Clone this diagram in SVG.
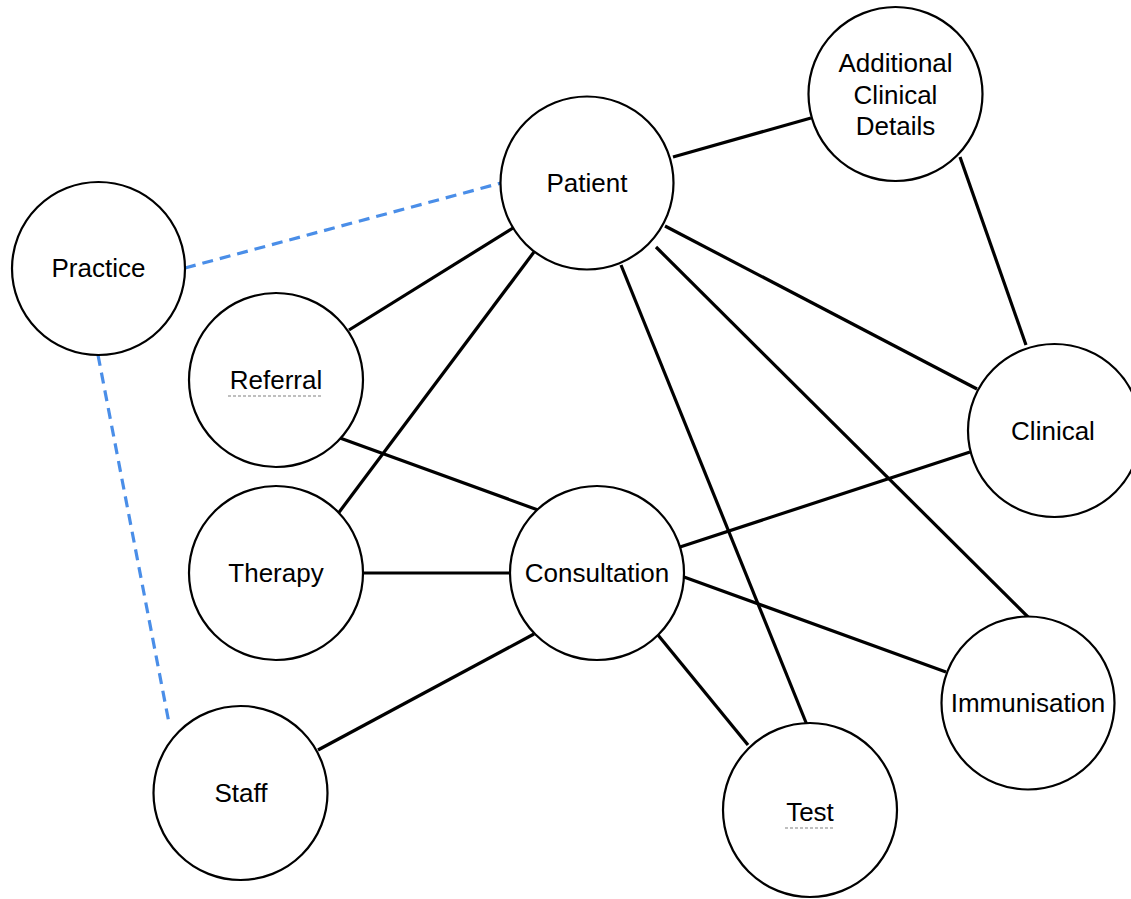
<svg xmlns="http://www.w3.org/2000/svg" width="1131" height="899" viewBox="0 0 1131 899">
<style>
.node circle{fill:#fff;stroke:#000;stroke-width:2.2}
.node text{font-family:"Liberation Sans",Arial,sans-serif;font-size:26px;text-anchor:middle;fill:#000}
.edge{stroke:#000;stroke-width:3.2;fill:none}
.dash{stroke:#4a8ee8;stroke-width:3.2;fill:none;stroke-dasharray:11 7}
.ul{stroke:#aaa;stroke-width:1.5;stroke-dasharray:3 2}
</style>
<rect width="1131" height="899" fill="#fff"/>
<g id="connectors">
<line class="dash" x1="185" y1="268" x2="501" y2="183"/>
<line class="dash" x1="98" y1="355" x2="169" y2="723"/>
<line class="edge" x1="673" y1="157" x2="811" y2="118"/>
<line class="edge" x1="960" y1="157" x2="1026" y2="345"/>
<line class="edge" x1="513" y1="228" x2="349" y2="330"/>
<line class="edge" x1="534" y1="252" x2="337" y2="515"/>
<line class="edge" x1="621" y1="265" x2="807" y2="725"/>
<line class="edge" x1="656" y1="247" x2="1029" y2="618"/>
<line class="edge" x1="665" y1="226" x2="977" y2="389"/>
<line class="edge" x1="340" y1="438" x2="538" y2="510"/>
<line class="edge" x1="363" y1="573" x2="510" y2="573"/>
<line class="edge" x1="680" y1="547" x2="970" y2="452"/>
<line class="edge" x1="684" y1="577" x2="946" y2="672"/>
<line class="edge" x1="534" y1="634" x2="318" y2="750"/>
<line class="edge" x1="658" y1="635" x2="748" y2="745"/>
</g>
<g id="practice" class="node"><circle cx="98.5" cy="268.5" r="86.5"/><text x="98.5" y="277">Practice</text></g>
<g id="patient" class="node"><circle cx="587" cy="183" r="86.5"/><text x="587" y="192">Patient</text></g>
<g id="additional" class="node"><circle cx="895.5" cy="94" r="87"/><text x="895.5" y="72">Additional</text><text x="895.5" y="104">Clinical</text><text x="895.5" y="135">Details</text></g>
<g id="referral" class="node"><circle cx="276" cy="380" r="87"/><text x="276" y="389">Referral</text><line class="ul" x1="228" y1="396" x2="323" y2="396"/></g>
<g id="clinical" class="node"><circle cx="1054.5" cy="430.5" r="86.5"/><text x="1053" y="440">Clinical</text></g>
<g id="therapy" class="node"><circle cx="276" cy="573" r="87"/><text x="276" y="582">Therapy</text></g>
<g id="consultation" class="node"><circle cx="597" cy="573" r="87"/><text x="597" y="582">Consultation</text></g>
<g id="immunisation" class="node"><circle cx="1028" cy="703" r="86.5"/><text x="1028" y="712">Immunisation</text></g>
<g id="staff" class="node"><circle cx="240.5" cy="793" r="87"/><text x="241" y="802">Staff</text></g>
<g id="test" class="node"><circle cx="810" cy="810" r="87"/><text x="810" y="821">Test</text><line class="ul" x1="785" y1="828" x2="834" y2="828"/></g>
</svg>
